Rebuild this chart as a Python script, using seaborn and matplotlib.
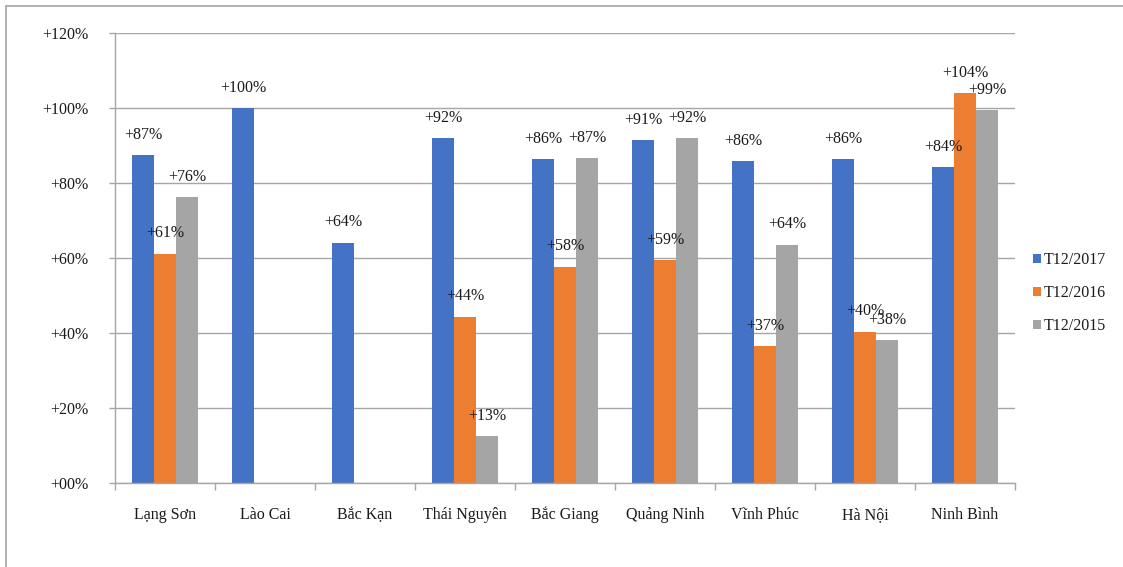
import numpy as np
import pandas as pd
import matplotlib
matplotlib.use("Agg")
import matplotlib.pyplot as plt
from matplotlib.lines import Line2D
from matplotlib.patches import Patch
from matplotlib.ticker import FixedLocator
import seaborn as sns

# Provinces and year-on-year growth (%) for three December snapshots
provinces = ["Lạng Sơn", "Lào Cai", "Bắc Kạn", "Thái Nguyên", "Bắc Giang",
             "Quảng Ninh", "Vĩnh Phúc", "Hà Nội", "Ninh Bình"]
series_names = ["T12/2017", "T12/2016", "T12/2015"]
t12_2017 = [87.4, 100.0, 64.1, 91.9, 86.4, 91.4, 85.9, 86.4, 84.2]
t12_2016 = [61.2, np.nan, np.nan, 44.4, 57.7, 59.4, 36.6, 40.4, 104.0]
t12_2015 = [76.3, np.nan, np.nan, 12.6, 86.6, 91.9, 63.6, 38.1, 99.4]
y_ticks = [0, 20, 40, 60, 80, 100, 120]
colors = ["#4472C4", "#ED7D31", "#A5A5A5"]

df = pd.DataFrame({
    "province": provinces * 3,
    "series": np.repeat(series_names, len(provinces)),
    "value": t12_2017 + t12_2016 + t12_2015,
})

sns.set_theme(style="white")
plt.rcParams["font.family"] = ["Liberation Serif", "DejaVu Serif"]
FS = 11.5

fig = plt.figure(figsize=(11.23, 5.67), dpi=100)
ax = fig.add_axes([115 / 1123, 84 / 567, 900 / 1123, 450 / 567])

sns.barplot(data=df, x="province", y="value", hue="series",
            order=provinces, hue_order=series_names, palette=colors,
            saturation=1, width=0.66, gap=0, errorbar=None, linewidth=0,
            legend=False, ax=ax)

# value labels above each bar
for cont in ax.containers:
    for rect in cont:
        h = rect.get_height()
        if np.isnan(h):
            continue
        ax.annotate(f"+{h:.0f}%", (rect.get_x() + rect.get_width() / 2, h),
                    xytext=(0, 14.5), textcoords="offset points",
                    ha="center", va="center", fontsize=FS, color="#1a1a1a")

ax.set_xlim(-0.5, len(provinces) - 0.5)
ax.set_ylim(0, 120)
ax.set_yticks(y_ticks)
ax.set_yticklabels([f"+{v:02d}%" for v in y_ticks], fontsize=FS, color="#1a1a1a")
ax.set_xlabel("")
ax.set_ylabel("")
ax.yaxis.grid(True, color="#a6a6a6", linewidth=1.0)
ax.set_axisbelow(True)

for side in ["top", "right"]:
    ax.spines[side].set_visible(False)
for side in ["left", "bottom"]:
    ax.spines[side].set_color("#a6a6a6")
    ax.spines[side].set_linewidth(1.0)

ax.tick_params(axis="y", which="major", length=4, width=1.0, color="#a6a6a6",
               pad=15, left=True)
ax.tick_params(axis="x", which="major", length=0, pad=26)
ax.set_xticks(range(len(provinces)))
ax.set_xticklabels(provinces, fontsize=FS, color="#1a1a1a", va="baseline")
ax.xaxis.set_minor_locator(FixedLocator(np.arange(-0.5, len(provinces), 1.0)))
ax.tick_params(axis="x", which="minor", length=5, width=1.0, color="#a6a6a6",
               bottom=True)

handles = [Patch(facecolor=c, edgecolor="none") for c in colors]
fig.legend(handles, series_names, loc="upper left",
           bbox_to_anchor=(1027 / 1123, 1 - 246 / 567), frameon=False,
           fontsize=FS, handlelength=0.5, handleheight=0.5,
           handletextpad=0.12, labelspacing=1.05, borderaxespad=0,
           labelcolor="#1a1a1a")

# outer frame lines
fig.add_artist(Line2D([6 / 1123, 6 / 1123], [0, 1 - 6 / 567],
                      transform=fig.transFigure, color="#a6a6a6", linewidth=1.2))
fig.add_artist(Line2D([6 / 1123, 1], [1 - 6 / 567, 1 - 6 / 567],
                      transform=fig.transFigure, color="#a6a6a6", linewidth=1.2))

fig.savefig("out.png", dpi=100)
